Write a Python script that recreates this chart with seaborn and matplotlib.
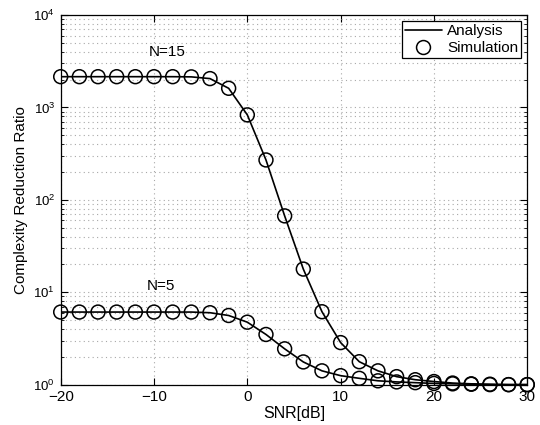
import numpy as np
import pandas as pd
import seaborn as sns
import matplotlib
matplotlib.use("Agg")
import matplotlib.pyplot as plt
from matplotlib.lines import Line2D
from matplotlib.ticker import LogLocator, NullFormatter

# data
snr = [-20, -18, -16, -14, -12, -10, -8, -6, -4, -2, 0, 2, 4, 6, 8, 10,
       12, 14, 16, 18, 20, 22, 24, 26, 28, 30]
ratio_n15 = [2150, 2150, 2150, 2150, 2150, 2150, 2150, 2140, 2050, 1610, 830,
             270, 67, 17.8, 6.15, 2.85, 1.77, 1.41, 1.22, 1.13, 1.08, 1.04,
             1.02, 1.01, 1.0, 1.0]
ratio_n5 = [6.1, 6.1, 6.1, 6.1, 6.1, 6.1, 6.1, 6.1, 6.0, 5.6, 4.74, 3.49,
            2.44, 1.76, 1.41, 1.25, 1.17, 1.10, 1.07, 1.05, 1.03, 1.02, 1.01,
            1.0, 1.0, 1.0]

df = pd.concat([
    pd.DataFrame({"snr": snr, "ratio": ratio_n15, "N": "N=15"}),
    pd.DataFrame({"snr": snr, "ratio": ratio_n5, "N": "N=5"}),
])

sns.set_style("ticks")
plt.rcParams["font.family"] = ["Liberation Sans", "DejaVu Sans"]
plt.rcParams["mathtext.fontset"] = "custom"
plt.rcParams["mathtext.rm"] = "Liberation Sans"
plt.rcParams["mathtext.it"] = "Liberation Sans"
plt.rcParams["mathtext.default"] = "regular"
plt.rcParams["text.color"] = "black"
plt.rcParams["axes.labelcolor"] = "black"
plt.rcParams["xtick.color"] = "black"
plt.rcParams["ytick.color"] = "black"

fig = plt.figure(figsize=(5.4, 4.25), dpi=100)
ax = fig.add_axes([0.1124, 0.095, 0.864, 0.8697])

# analysis curves
sns.lineplot(data=df, x="snr", y="ratio", units="N", estimator=None,
             color="black", linewidth=1.2, ax=ax, legend=False)
# simulation markers
sns.scatterplot(data=df, x="snr", y="ratio", marker="o", s=100,
                facecolor="none", edgecolor="black", linewidth=1.1,
                ax=ax, legend=False, zorder=3, clip_on=False)

ax.set_yscale("log")
ax.set_xlim(-20, 30)
ax.set_ylim(1, 1e4)
ax.set_xticks([-20, -10, 0, 10, 20, 30])
ax.set_xticklabels(["\u221220", "\u221210", "0", "10", "20", "30"])
ax.yaxis.set_major_locator(LogLocator(base=10, numticks=10))
ax.yaxis.set_minor_locator(LogLocator(base=10, subs=np.arange(2, 10), numticks=10))
ax.yaxis.set_minor_formatter(NullFormatter())

grid_kw = dict(linestyle=(0, (1, 3)), color="#a8a8a8", linewidth=0.8)
ax.grid(True, which="major", axis="both", **grid_kw)
ax.grid(True, which="minor", axis="y", **grid_kw)
ax.tick_params(which="both", direction="in", top=True, right=True)
ax.tick_params(axis="x", labelsize=11, pad=4)
ax.tick_params(axis="y", labelsize=9.5, pad=4)
ax.tick_params(which="major", length=5)
ax.tick_params(which="minor", length=2.5)
for s in ax.spines.values():
    s.set_linewidth(0.9)
    s.set_color("black")

ax.set_xlabel("SNR[dB]", fontsize=11.5, labelpad=1)
ax.set_ylabel("Complexity Reduction Ratio", fontsize=11, labelpad=4)

ax.text(-8.6, 4000, "N=15", fontsize=11, ha="center", va="center")
ax.text(-9.3, 11.6, "N=5", fontsize=11, ha="center", va="center")

handles = [
    Line2D([], [], color="black", linewidth=1.2, label="Analysis"),
    Line2D([], [], color="none", marker="o", markersize=10, markerfacecolor="none",
           markeredgecolor="black", markeredgewidth=1.1, label="Simulation"),
]
leg = ax.legend(handles=handles, loc="upper right", fontsize=11, frameon=True,
                fancybox=False, edgecolor="black", framealpha=1,
                borderaxespad=0.4, handlelength=2.4, handletextpad=0.35,
                labelspacing=0.2, borderpad=0.2)
leg.get_frame().set_linewidth(0.9)

fig.savefig("out.png", dpi=100)
